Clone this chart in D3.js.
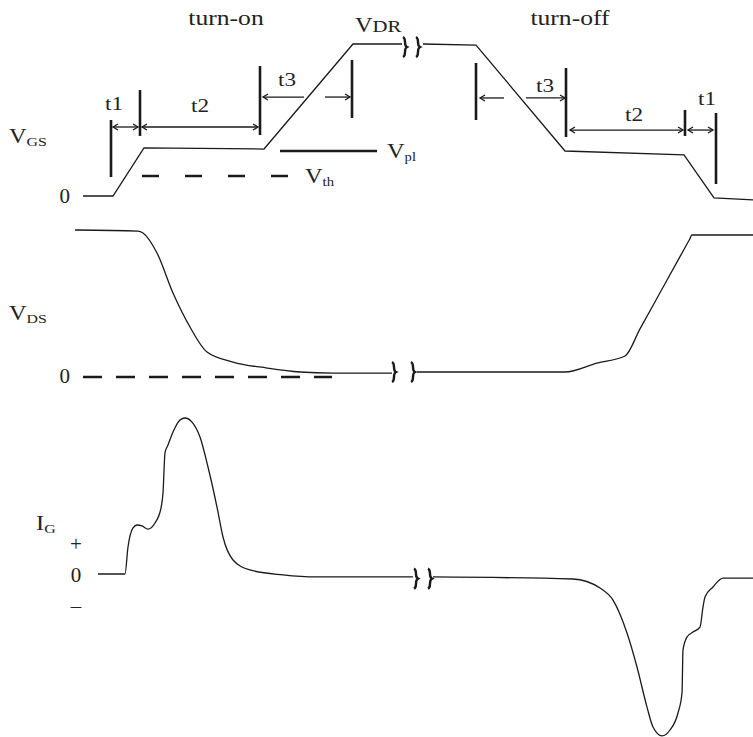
<!DOCTYPE html>
<html lang="en">
<head>
  <meta charset="UTF-8">
  <title>MOSFET gate switching waveforms</title>
  <script src="https://d3js.org/d3.v7.min.js"></script>
  <style>
    body { margin: 0; background: #fff; }
    svg { display: block; }
    text, tspan { font-family: "Liberation Serif", "Times New Roman", serif; fill: #222; }
  </style>
</head>
<body>
  <div id="chart"></div>
  <script>
    // time axis in arbitrary units, each panel has its own level scale (top level = 10)
    // VGS waveform [t, v]; null marks the break in the time axis
    const vgsWave = [
      [1.6, 0], [7.6, 0], [13.8, 3.16], [37.8, 3.09], [55.6, 10], [65.4, 10],
      [67, null],
      [69.6, 10], [80.2, 9.93], [98, 2.96], [121.8, 2.70], [127.8, -0.13], [135.6, -0.26]
    ];
    const vgsBreaks = [66, 68.6];

    const vdsWave = [
      [0, 10], [12.6, 9.93], [13.6, 9.8], [16.4, 8.44], [19.6, 5.71], [23, 3.40],
      [26.4, 1.70], [31.6, 1.02], [38.4, 0.61], [45, 0.34], [51.6, 0.27], [63.4, 0.27],
      [65.5, null],
      [68.4, 0.34], [98, 0.34], [104.4, 0.95], [110, 1.43], [113, 3.27], [117, 5.73],
      [121, 8.19], [122.9, 9.35], [123.4, 9.66], [135.6, 9.66]
    ];
    const vdsBreaks = [63.8, 67.6];
    const vdsZeroDash = [1.6, 51.4];

    const igWave = [
      [4.6, 0], [10, 0], [10.6, 1.73], [11.6, 2.95], [12.4, 3.14], [13.4, 3.08],
      [14.6, 2.88], [16, 3.27], [17.2, 4.23], [17.6, 5.19], [18, 7.76], [18.6, 8.27],
      [19.6, 9.10], [21, 9.87], [22, 10], [23.4, 9.74], [25, 8.78], [26.6, 6.86],
      [28.4, 4.29], [29.6, 2.37], [31.6, 0.90], [35, 0.26], [41.6, -0.06],
      [48.4, -0.19], [67.6, -0.19],
      [69.5, null],
      [71.6, -0.19], [99.6, -0.32], [105, -0.90], [107.6, -1.67], [110.4, -3.78],
      [112.4, -5.96], [114.4, -8.53], [115.6, -9.81], [117.4, -10.38], [119, -10],
      [120.6, -8.91], [121.4, -7.63], [121.6, -4.87], [122.4, -4.04], [123.6, -3.72],
      [125, -3.40], [125.6, -2.12], [126, -1.47], [127.6, -0.83], [129.6, -0.26],
      [135.6, -0.26]
    ];
    const igBreaks = [68.2, 71];

    // threshold and plateau levels of VGS
    const vplLevel = 2.96, vplSpan = [41, 60.4];
    const vthLevel = 1.32, vthSpan = [13.4, 44.4];

    // timing bars [t, top, bottom] on the VGS level scale
    const timingBars = [
      [7.2, 5.0, 1.25], [13, 6.97, 3.95], [37, 8.55, 4.01], [55.4, 8.95, 5.13],
      [80.2, 8.75, 5.0], [98.2, 8.42, 3.88], [122, 5.66, 3.95], [128.2, 5.46, 0.79]
    ];
    // arrows [t from, t to, level, head at start, head at end]
    const timingArrows = [
      [7.6, 12.6, 4.54, true, true], [13.4, 36.6, 4.54, true, true],
      [37.6, 45.8, 6.51, true, false], [50, 55, 6.51, false, true],
      [81, 85.8, 6.45, true, false], [90.2, 98, 6.45, false, true],
      [99, 121.6, 4.34, true, true], [122.6, 127.6, 4.34, true, true]
    ];
    // interval labels [text, t centre, level of baseline]
    const timingLabels = [
      ["t1", 7.8, 5.66], ["t2", 25, 5.53], ["t3", 42.4, 7.24],
      ["t3", 94, 6.84], ["t2", 111.8, 4.93], ["t1", 126.4, 5.99]
    ];
    const phaseLabels = [["turn-on", 30.2, 11.25], ["turn-off", 99, 11.25]];

    const width = 753, height = 737;
    const x = d3.scaleLinear().domain([0, 135.6]).range([75, 753]);
    const yGS = d3.scaleLinear().domain([0, 10]).range([196, 44]);
    const yDS = d3.scaleLinear().domain([0, 10]).range([377, 230]);
    const yIG = d3.scaleLinear().domain([0, 10]).range([574, 418]);

    const svg = d3.select("#chart").append("svg")
      .attr("width", width)
      .attr("height", height);

    const ink = "#1a1a1a";

    function wave(data, y, curve) {
      const line = d3.line()
        .defined(d => d[1] !== null)
        .x(d => x(d[0]))
        .y(d => y(d[1]))
        .curve(curve);
      svg.append("path")
        .attr("d", line(data))
        .attr("fill", "none")
        .attr("stroke", ink)
        .attr("stroke-width", 1.3);
    }

    // small brace-like squiggle marking the time break
    function squiggles(times, cy) {
      svg.selectAll(null)
        .data(times)
        .join("path")
        .attr("d", t => {
          const cx = x(t);
          return `M${cx - 2},${cy - 10} C${cx + 2},${cy - 8} ${cx - 2},${cy - 2} ${cx + 2},${cy}` +
                 ` C${cx - 2},${cy + 2} ${cx + 2},${cy + 8} ${cx - 2},${cy + 10}`;
        })
        .attr("fill", "none")
        .attr("stroke", ink)
        .attr("stroke-width", 2.4);
    }

    // label with a main part and an optional subscript, stretched a bit like the original face
    function label(px, py, main, sub, size, subSize, anchor, subDy) {
      const g = svg.append("g").attr("transform", `translate(${px},${py}) scale(1.22,1)`);
      const t = g.append("text")
        .attr("font-size", size)
        .attr("text-anchor", anchor || "start")
        .text(main);
      if (sub) {
        t.append("tspan")
          .attr("font-size", subSize)
          .attr("dy", subDy === undefined ? 3 : subDy)
          .text(sub);
      }
    }

    // ---- VGS panel ----
    wave(vgsWave, yGS, d3.curveLinear);
    squiggles(vgsBreaks, yGS(10) + 3);

    svg.append("line")
      .attr("x1", x(vplSpan[0])).attr("x2", x(vplSpan[1]))
      .attr("y1", yGS(vplLevel)).attr("y2", yGS(vplLevel))
      .attr("stroke", ink).attr("stroke-width", 2.4);

    svg.append("line")
      .attr("x1", x(vthSpan[0])).attr("x2", x(vthSpan[1]))
      .attr("y1", yGS(vthLevel)).attr("y2", yGS(vthLevel))
      .attr("stroke", ink).attr("stroke-width", 2.6)
      .attr("stroke-dasharray", "17,26");

    svg.selectAll(null)
      .data(timingBars)
      .join("line")
      .attr("x1", d => x(d[0])).attr("x2", d => x(d[0]))
      .attr("y1", d => yGS(d[1])).attr("y2", d => yGS(d[2]))
      .attr("stroke", ink).attr("stroke-width", 2.6);

    const arrowG = svg.append("g")
      .attr("fill", "none").attr("stroke", ink).attr("stroke-width", 1.3);
    timingArrows.forEach(([t0, t1, lvl, headStart, headEnd]) => {
      const xa = x(t0), xb = x(t1), ya = yGS(lvl);
      arrowG.append("line").attr("x1", xa).attr("x2", xb).attr("y1", ya).attr("y2", ya);
      if (headStart) arrowG.append("path").attr("d", `M${xa + 5},${ya - 3} L${xa},${ya} L${xa + 5},${ya + 3}`);
      if (headEnd) arrowG.append("path").attr("d", `M${xb - 5},${ya - 3} L${xb},${ya} L${xb - 5},${ya + 3}`);
    });

    timingLabels.forEach(([txt, t, lvl]) => label(x(t), yGS(lvl), txt, null, 19, 0, "middle"));
    phaseLabels.forEach(([txt, t, lvl]) => label(x(t), yGS(lvl), txt, null, 21, 0, "middle"));

    label(x(56), yGS(10.79), "V", "DR", 20, 17, "start", 0);
    label(x(62.4), yGS(2.5), "V", "pl", 20, 12);
    label(x(46), yGS(0.86), "V", "th", 20, 12);

    label(9, 143, "V", "GS", 20, 13);
    svg.append("text").attr("x", 70).attr("y", yGS(0) + 7)
      .attr("font-size", 21).attr("text-anchor", "end").text("0");

    // ---- VDS panel ----
    wave(vdsWave, yDS, d3.curveMonotoneX);
    squiggles(vdsBreaks, yDS(0.34));
    svg.append("line")
      .attr("x1", x(vdsZeroDash[0])).attr("x2", x(vdsZeroDash[1]))
      .attr("y1", yDS(0)).attr("y2", yDS(0))
      .attr("stroke", ink).attr("stroke-width", 2.6)
      .attr("stroke-dasharray", "19,14");

    label(9, 320, "V", "DS", 20, 13);
    svg.append("text").attr("x", 70).attr("y", yDS(0) + 6)
      .attr("font-size", 21).attr("text-anchor", "end").text("0");

    // ---- IG panel ----
    wave(igWave, yIG, d3.curveMonotoneX);
    squiggles(igBreaks, yIG(-0.3));

    label(36, 530, "I", "G", 20, 13);
    svg.append("text").attr("x", 76).attr("y", 551)
      .attr("font-size", 21).attr("text-anchor", "middle").text("+");
    svg.append("text").attr("x", 76).attr("y", yIG(0) + 8)
      .attr("font-size", 21).attr("text-anchor", "middle").text("0");
    svg.append("text").attr("x", 76).attr("y", 613)
      .attr("font-size", 21).attr("text-anchor", "middle").text("\u2013");
  </script>
</body>
</html>
